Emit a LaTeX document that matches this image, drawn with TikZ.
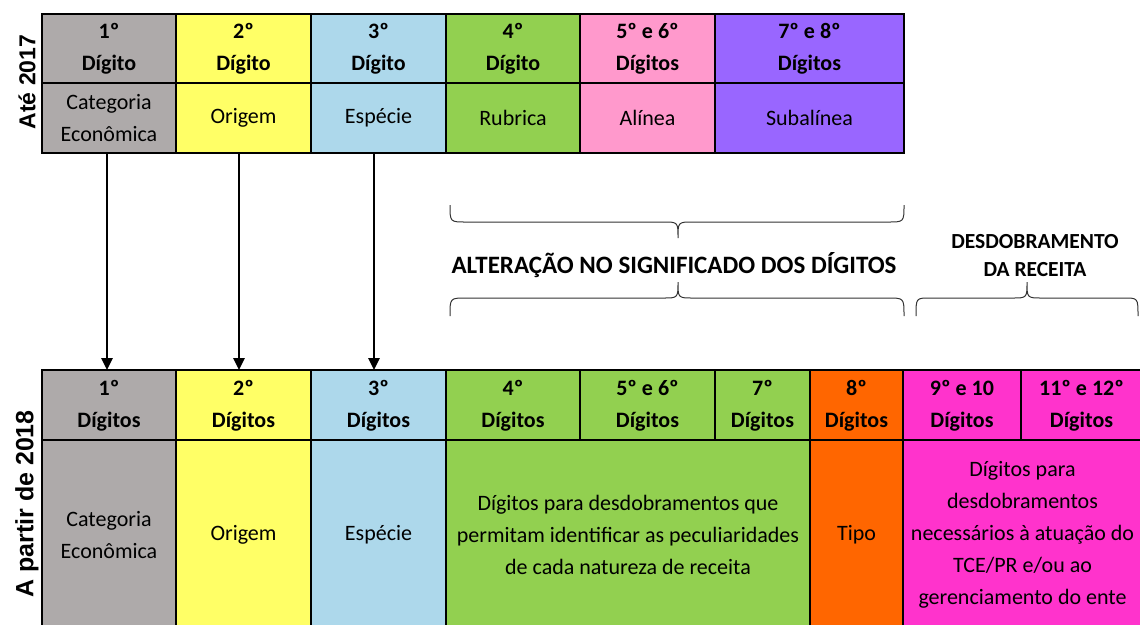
\documentclass[tikz,border=0pt]{standalone}
\usepackage{fontspec}
\setmainfont{Carlito}
\newfontfamily\sidefont{Liberation Sans}
\usetikzlibrary{arrows.meta}
\definecolor{cgray}{HTML}{AEAAAA}
\definecolor{cyellow}{HTML}{FFFF66}
\definecolor{cblue}{HTML}{ADD8EB}
\definecolor{cgreen}{HTML}{92D050}
\definecolor{cpink}{HTML}{FF99CC}
\definecolor{cpurple}{HTML}{9966FF}
\definecolor{corange}{HTML}{FF6600}
\definecolor{cmagenta}{HTML}{FF33CC}
\tikzset{
  cellbox/.style={draw=black, line width=1.3pt, inner sep=0pt, outer sep=0pt, align=center,
     font=\fontsize{22}{32}\selectfont},
  headbox/.style={cellbox, font=\fontsize{22}{32}\selectfont\bfseries, text depth=3pt},
  arr/.style={line width=2.6pt, -{Triangle[width=11pt,length=12pt]}},
  bracestyle/.style={line width=1pt, black!80},
  bigtitle/.style={font=\fontsize{25}{28}\selectfont\bfseries, inner sep=0pt, align=center},
  sidelabel/.style={font=\fontsize{23}{26}\selectfont\sidefont\bfseries, rotate=90, inner sep=0pt}
}
\begin{document}
\begin{tikzpicture}[x=1pt,y=-1pt]
\useasboundingbox (0,0) rectangle (1140,624);
% ---------- top table (Até 2017) ----------
\node[sidelabel] (lab17) at (27,82) {Até 2017};
\node[headbox, fill=cgray,   minimum width=134pt, minimum height=69pt] (t1h) at (109,48.5)   {1º\\Dígito};
\node[headbox, fill=cyellow, minimum width=135pt, minimum height=69pt] (t2h) at (243.5,48.5) {2º\\Dígito};
\node[headbox, fill=cblue,   minimum width=135pt, minimum height=69pt] (t3h) at (378.5,48.5) {3º\\Dígito};
\node[headbox, fill=cgreen,  minimum width=134pt, minimum height=69pt] (t4h) at (513,48.5)   {4º\\Dígito};
\node[headbox, fill=cpink,   minimum width=135pt, minimum height=69pt] (t5h) at (647.5,48.5) {5º e 6º\\Dígitos};
\node[headbox, fill=cpurple, minimum width=189pt, minimum height=69pt] (t7h) at (809.5,48.5) {7º e 8º\\Dígitos};
\node[cellbox, fill=cgray,   minimum width=134pt, minimum height=70pt] (t1b) at (109,118)   {Categoria\\Econômica};
\node[cellbox, fill=cyellow, minimum width=135pt, minimum height=70pt] (t2b) at (243.5,118) {Origem};
\node[cellbox, fill=cblue,   minimum width=135pt, minimum height=70pt] (t3b) at (378.5,118) {Espécie};
\node[cellbox, fill=cgreen,  minimum width=134pt, minimum height=70pt] (t4b) at (513,118)   {Rubrica};
\node[cellbox, fill=cpink,   minimum width=135pt, minimum height=70pt] (t5b) at (647.5,118) {Alínea};
\node[cellbox, fill=cpurple, minimum width=189pt, minimum height=70pt] (t7b) at (809.5,118) {Subalínea};
% ---------- bottom table (A partir de 2018) ----------
\node[sidelabel, font=\fontsize{25}{28}\selectfont\sidefont\bfseries] (lab18) at (27,504) {A partir de 2018};
\node[headbox, fill=cgray,    minimum width=134pt, minimum height=70pt] (b1h) at (109,405)    {1º\\Dígitos};
\node[headbox, fill=cyellow,  minimum width=135pt, minimum height=70pt] (b2h) at (243.5,405)  {2º\\Dígitos};
\node[headbox, fill=cblue,    minimum width=135pt, minimum height=70pt] (b3h) at (378.5,405)  {3º\\Dígitos};
\node[headbox, fill=cgreen,   minimum width=134pt, minimum height=70pt] (b4h) at (513,405)    {4º\\Dígitos};
\node[headbox, fill=cgreen,   minimum width=135pt, minimum height=70pt] (b5h) at (647.5,405)  {5º e 6º\\Dígitos};
\node[headbox, fill=cgreen,   minimum width=95pt,  minimum height=70pt] (b7h) at (762.5,405)  {7º\\Dígitos};
\node[headbox, fill=corange,  minimum width=93pt,  minimum height=70pt] (b8h) at (856.5,405)  {8º\\Dígitos};
\node[headbox, fill=cmagenta, minimum width=118pt, minimum height=70pt] (b9h) at (962,405)    {9º e 10\\Dígitos};
\node[headbox, fill=cmagenta, minimum width=121pt, minimum height=70pt] (b11h) at (1081.5,405) {11º e 12º\\Dígitos};
\node[cellbox, fill=cgray,    minimum width=134pt, minimum height=190pt] (b1b) at (109,535)   {Categoria\\Econômica};
\node[cellbox, fill=cyellow,  minimum width=135pt, minimum height=190pt] (b2b) at (243.5,535) {Origem};
\node[cellbox, fill=cblue,    minimum width=135pt, minimum height=190pt] (b3b) at (378.5,535) {Espécie};
\node[cellbox, fill=cgreen,   minimum width=364pt, minimum height=190pt] (b4b) at (628,535)   {Dígitos para desdobramentos que\\permitam identificar as peculiaridades\\de cada natureza de receita};
\node[cellbox, fill=corange,  minimum width=93pt,  minimum height=190pt] (b8b) at (856.5,535) {Tipo};
\node[cellbox, fill=cmagenta, minimum width=239pt, minimum height=190pt] (b9b) at (1022.5,535) {Dígitos para\\desdobramentos\\necessários à atuação do\\TCE/PR e/ou ao\\gerenciamento do ente};
% ---------- arrows ----------
\draw[arr] ([xshift=-2pt]t1b.south) -- ([xshift=-2pt]b1h.north);
\draw[arr] ([xshift=-4.5pt]t2b.south) -- ([xshift=-4.5pt]b2h.north);
\draw[arr] ([xshift=-4.5pt]t3b.south) -- ([xshift=-4.5pt]b3h.north);
% ---------- braces ----------
\coordinate (ba1) at (450,205);
\coordinate (ba2) at (904,205);
\coordinate (baTip) at (678,238);
\draw[bracestyle] (ba1) .. controls (450,222) .. (466,222) -- (663,222)
   .. controls (678,222) .. (baTip) .. controls (678,222) .. (693,222) -- (888,222)
   .. controls (904,222) .. (ba2);
\node[bigtitle] (alt) at (674,265) {ALTERAÇÃO NO SIGNIFICADO DOS DÍGITOS};
\coordinate (bb1) at (450,316);
\coordinate (bb2) at (904,316);
\coordinate (bbTip) at (678,282);
\draw[bracestyle] (bb1) .. controls (450,298) .. (466,298) -- (663,298)
   .. controls (678,298) .. (bbTip) .. controls (678,298) .. (693,298) -- (888,298)
   .. controls (904,298) .. (bb2);
\coordinate (bc1) at (916,316);
\coordinate (bc2) at (1138,316);
\coordinate (bcTip) at (1027,282);
\draw[bracestyle] (bc1) .. controls (916,298) .. (930,298) -- (1012,298)
   .. controls (1027,298) .. (bcTip) .. controls (1027,298) .. (1042,298) -- (1124,298)
   .. controls (1138,298) .. (bc2);
\node[bigtitle, font=\fontsize{21.5}{28}\selectfont\bfseries] (desd) at (1035,256) {DESDOBRAMENTO\\DA RECEITA};
\end{tikzpicture}
\end{document}
